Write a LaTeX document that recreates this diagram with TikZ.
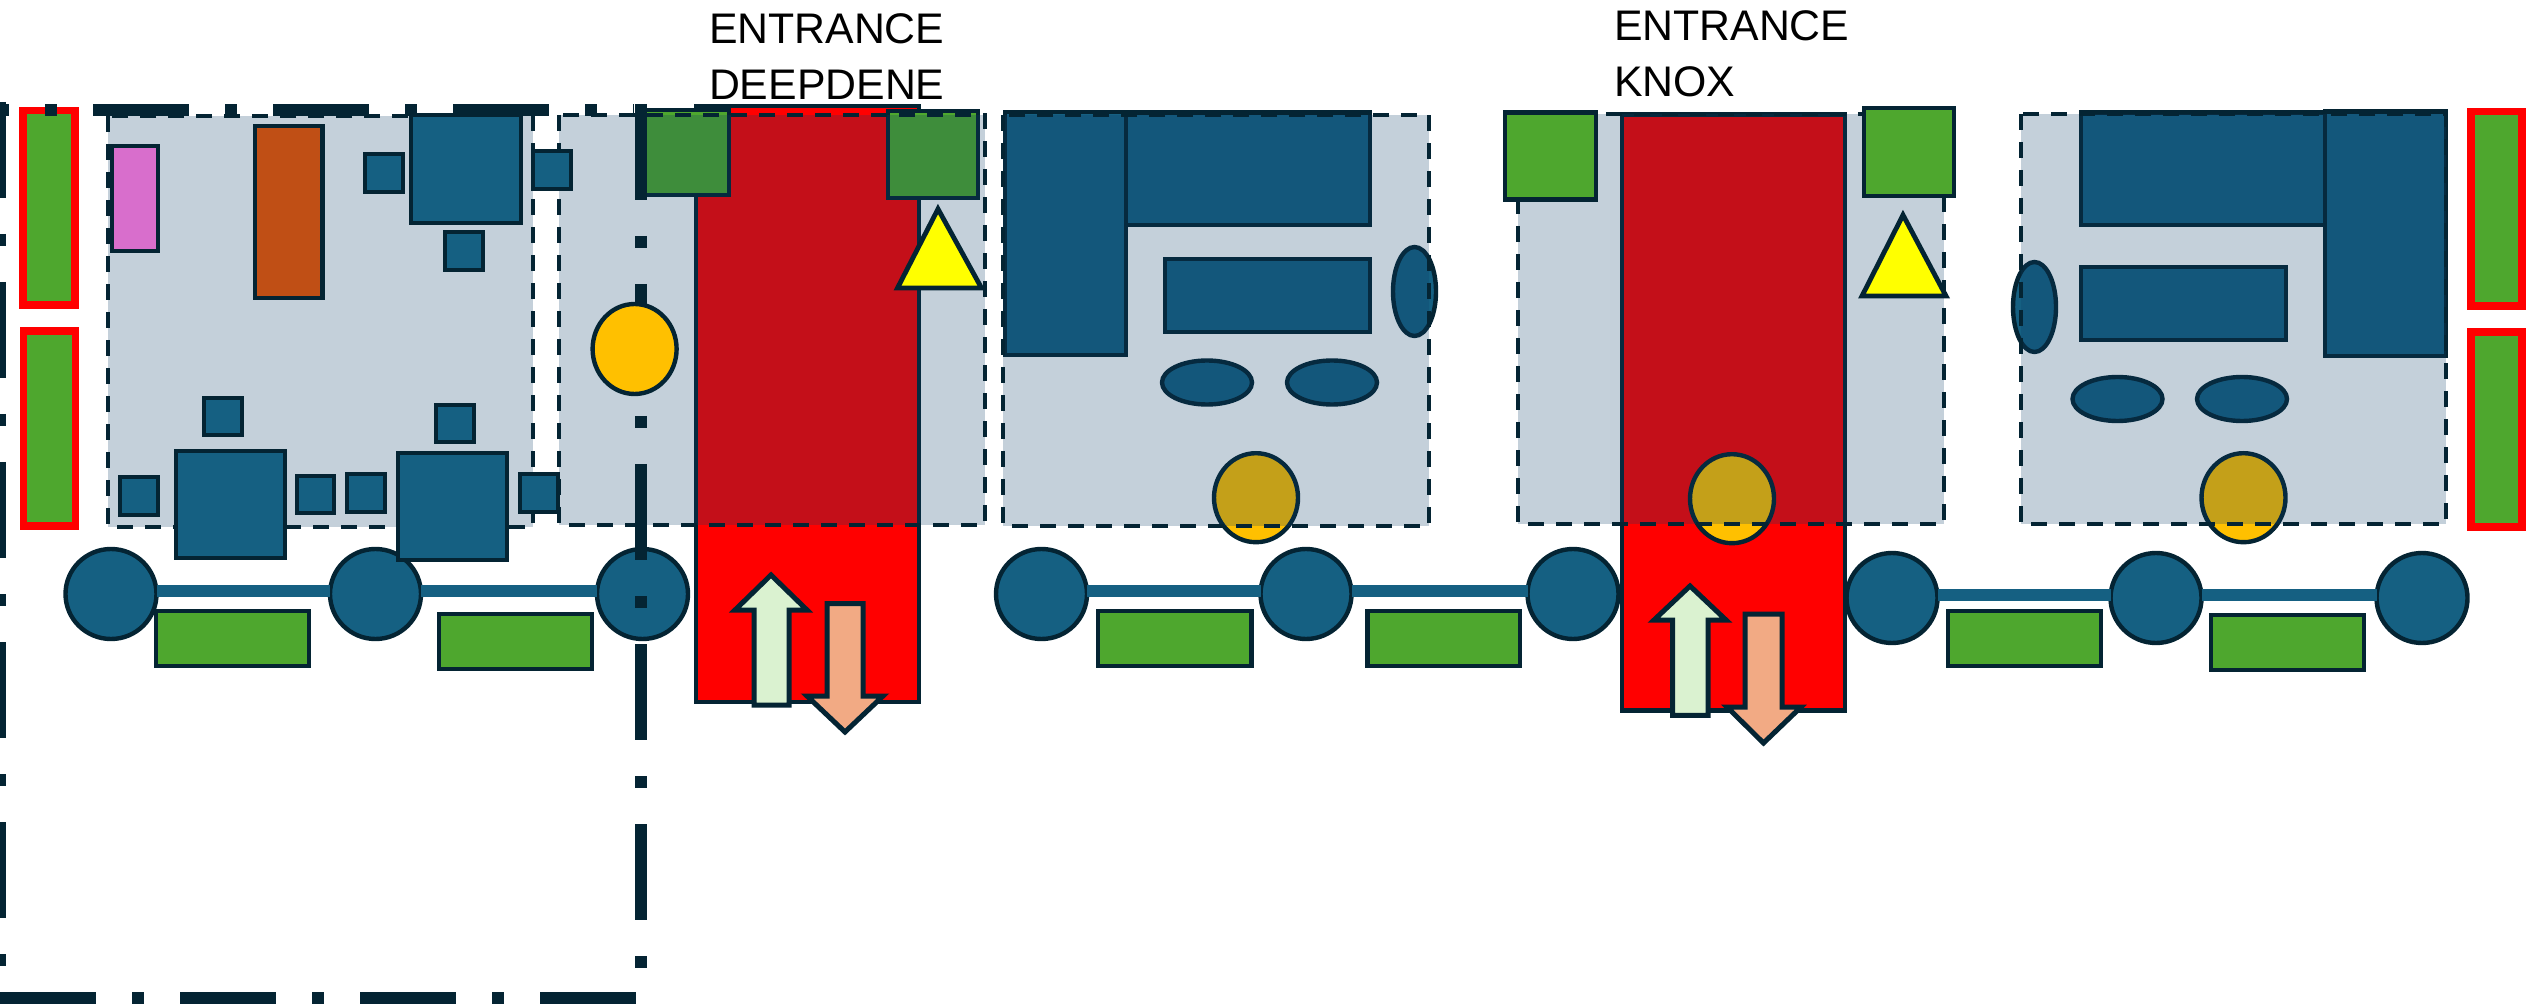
\documentclass[tikz,border=0pt]{standalone}
\usepackage{fontspec}
\setmainfont{Liberation Sans}
\usetikzlibrary{shapes.geometric}
\definecolor{ink}{HTML}{042433}
\definecolor{bluefill}{HTML}{156082}
\definecolor{grass}{HTML}{4EA72E}
\definecolor{amber}{HTML}{FFC000}
\definecolor{veil}{HTML}{103E67}
\definecolor{rust}{HTML}{C04F15}
\definecolor{orchid}{HTML}{D86ECC}
\definecolor{upfill}{HTML}{DAF2D0}
\definecolor{downfill}{HTML}{F2AA84}
\definecolor{warnfill}{HTML}{FFFF00}
\definecolor{roadfill}{HTML}{FF0000}
\tikzset{
  shape line/.style={draw=ink,line width=1.1pt,line join=miter},
  blue shape/.style={shape line,fill=bluefill},
  green shape/.style={shape line,fill=grass},
  amber shape/.style={shape line,fill=amber},
  road/.style={shape line,fill=roadfill},
  zone/.style={draw=ink,line width=1.05pt,dash pattern=on 4pt off 3pt,fill=veil,fill opacity=.243},
  planter/.style={draw=roadfill,line width=1.9pt,fill=grass},
  warn/.style={shape line,line width=1.2pt,fill=warnfill},
  up arrow/.style={shape line,line width=1.25pt,fill=upfill},
  down arrow/.style={shape line,line width=1.25pt,fill=downfill},
  stop/.style={ellipse,draw=ink,line width=1.1pt,fill=bluefill,minimum width=22.75pt,minimum height=22.5pt,inner sep=0pt,outer sep=0pt},
  stop bar/.style={draw=bluefill,line width=3pt},
  bound/.style={draw=ink,line width=3pt,dash pattern=on 24pt off 9pt on 3pt off 9pt},
  label text/.style={font=\fontsize{10.7pt}{14.25pt}\selectfont,anchor=base west,inner sep=0pt,outer sep=0pt,text=black}
}
\begin{document}
\begin{tikzpicture}[x=.25pt,y=-.25pt]
\useasboundingbox (0,0) rectangle (2526,1004);
\fill[white] (0,0) rectangle (2526,1004);
% under the zones
\draw[road] (696,106) rectangle (919,702);
\draw[road] (1622,114.5) rectangle (1845,710.5);
\draw[green shape] (645,110) rectangle (729,195);
\draw[green shape] (888,111) rectangle (978,198);
\draw[amber shape] (1256,497.7) ellipse [x radius=42,y radius=44.5];
\draw[amber shape] (1732,498.7) ellipse [x radius=42,y radius=44.5];
\draw[amber shape] (2243.5,497.7) ellipse [x radius=42,y radius=44.5];
% zones 1 and 2
\draw[zone] (108,116) rectangle (533,527);
\draw[zone] (559,115) rectangle (985,525);
% blue shapes of zones 3 and 5, below their veil
\draw[blue shape] (1005,112) rectangle (1126,355);
\draw[blue shape] (1126,112.5) rectangle (1370,225);
\draw[blue shape] (1165,259) rectangle (1370,332);
\draw[blue shape] (1414.5,291.5) ellipse [x radius=21.5,y radius=44.5];
\draw[blue shape] (1207,382.5) ellipse [x radius=45,y radius=22];
\draw[blue shape] (1332,382.5) ellipse [x radius=45,y radius=22];
\draw[blue shape] (2081,112.5) rectangle (2326,225);
\draw[blue shape] (2325,111.5) rectangle (2446,356);
\draw[blue shape] (2081,267) rectangle (2286,340);
\draw[blue shape] (2034.5,307) ellipse [x radius=21.5,y radius=45];
\draw[blue shape] (2117.5,399) ellipse [x radius=45,y radius=22];
\draw[blue shape] (2242,399) ellipse [x radius=45,y radius=22];
\draw[zone] (1003,115) rectangle (1429,526);
\draw[zone] (1518,114) rectangle (1944,524);
\draw[zone] (2021,114) rectangle (2446,524);
% planters
\draw[planter] (23,110.5) rectangle (75,305);
\draw[planter] (23.5,331) rectangle (75.5,526);
\draw[planter] (2471,111.5) rectangle (2522,306);
\draw[planter] (2471,332) rectangle (2522,527);
% stops and bars
\node[stop] (s1) at (111,594) {};
\node[stop] (s2) at (375.5,594) {};
\node[stop] (s3) at (642.5,594) {};
\node[stop] (s4) at (1041.5,594) {};
\node[stop] (s5) at (1306,594) {};
\node[stop] (s6) at (1573,594) {};
\node[stop] (s7) at (1892,598) {};
\node[stop] (s8) at (2156,598) {};
\node[stop] (s9) at (2422,598) {};
\foreach \a/\b in {s1/s2,s2/s3,s4/s5,s5/s6,s7/s8,s8/s9}
  \draw[stop bar] ([yshift=.75pt]\a.east) -- ([yshift=.75pt]\b.west);
% zone 1 contents
\draw[shape line,fill=orchid] (112,146) rectangle (158,251);
\draw[shape line,fill=rust] (255,126) rectangle (322.5,298);
\draw[blue shape] (365,154) rectangle (403,192);
\draw[blue shape] (411,115) rectangle (521,223);
\draw[blue shape] (533,151) rectangle (571,189);
\draw[blue shape] (445,232) rectangle (483,270);
\draw[blue shape] (204,398) rectangle (242,435);
\draw[blue shape] (436,405) rectangle (474,442);
\draw[blue shape] (176,451) rectangle (285,558);
\draw[blue shape] (120,477) rectangle (158,515);
\draw[blue shape] (297,476) rectangle (334,513);
\draw[blue shape] (347,474) rectangle (385,512);
\draw[blue shape] (398,453) rectangle (507,560);
\draw[blue shape] (520,474) rectangle (558,512);
% green bays
\draw[green shape] (156,611) rectangle (309,666);
\draw[green shape] (439,614) rectangle (592,669);
\draw[green shape] (1098,611) rectangle (1251.5,666);
\draw[green shape] (1367.5,611) rectangle (1520,666);
\draw[green shape] (1948,611) rectangle (2101,666);
\draw[green shape] (2211,615) rectangle (2364,670);
\draw[green shape] (1505,112.5) rectangle (1596,199.6);
\draw[green shape] (1864,108) rectangle (1954,196);
% boundary
\draw[bound,dash phase=21.75pt] (0,110) -- (634,110);
\draw[bound] (0,102) -- (0,1004);
\draw[bound] (640.5,104) -- (640.5,998);
\draw[bound] (0,998) -- (636,998);
% on top
\draw[amber shape] (634.6,349) ellipse [x radius=42,y radius=45];
\draw[warn] (938,209) -- (981.5,288) -- (897.5,288) -- cycle;
\draw[warn] (1903,215) -- (1946,296) -- (1862,296) -- cycle;
\draw[up arrow] (771,575) -- (807,610) -- (789,610) -- (789,705) -- (754,705) -- (754,610) -- (735,610) -- cycle;
\draw[down arrow] (827,603.5) -- (863,603.5) -- (863,696) -- (883,696) -- (845,732) -- (807,696) -- (827,696) -- cycle;
\draw[up arrow] (1690,586) -- (1726,620) -- (1708,620) -- (1708,715.4) -- (1672.6,715.4) -- (1672.6,620) -- (1654,620) -- cycle;
\draw[down arrow] (1745,614) -- (1782,614) -- (1782,707) -- (1801,707) -- (1763.5,743) -- (1727,707) -- (1745,707) -- cycle;
% labels
\node[label text] (t1) at (709,43.6) {ENTRANCE};
\node[label text] (t2) at (709,100) {DEEPDENE};
\node[label text] (t3) at (1614,40.7) {ENTRANCE};
\node[label text] (t4) at (1614,97) {KNOX};
\end{tikzpicture}
\end{document}
